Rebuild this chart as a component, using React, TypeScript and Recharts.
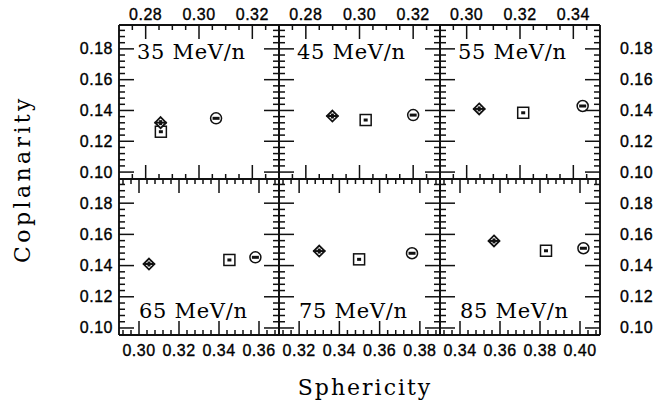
import React from 'react';
import { ScatterChart, Scatter, XAxis, YAxis } from 'recharts';

const W = 665;
const H = 406;

// ---- data ----
const energyLabels = ['35 MeV/n', '45 MeV/n', '55 MeV/n', '65 MeV/n', '75 MeV/n', '85 MeV/n'];
const diamondSph = [0.2856, 0.2899, 0.3047, 0.305, 0.33, 0.357];
const diamondCop = [0.1321, 0.1364, 0.141, 0.141, 0.1493, 0.1558];
const squareSph = [0.2857, 0.3023, 0.3212, 0.3452, 0.3498, 0.383];
const squareCop = [0.1262, 0.1338, 0.1385, 0.1436, 0.144, 0.1495];
const circleSph = [0.3064, 0.32, 0.3435, 0.3582, 0.3761, 0.4017];
const circleCop = [0.1349, 0.137, 0.1429, 0.1453, 0.1479, 0.1511];

const xDomains: [number, number][] = [
  [0.27, 0.33], [0.27, 0.33], [0.29, 0.35],
  [0.29, 0.37], [0.31, 0.39], [0.33, 0.41],
];
const xMajorLabels = [
  [0.28, 0.3, 0.32], [0.28, 0.3, 0.32], [0.3, 0.32, 0.34],
  [0.3, 0.32, 0.34, 0.36], [0.32, 0.34, 0.36, 0.38], [0.34, 0.36, 0.38, 0.4],
];
const xMinorSteps = [0.005, 0.005, 0.005, 0.004, 0.004, 0.004];
const yDomain: [number, number] = [0.0955, 0.1955];
const yMajorLabels = [0.1, 0.12, 0.14, 0.16, 0.18];
const yMinorStep = 0.004;

// ---- layout ----
const colX = [119, 279, 440, 600];
const rowY = [25, 179, 335];

const r6 = (v: number) => Math.round(v * 1e6) / 1e6;
const makeTicks = (d: [number, number], step: number, majors: number[]) => {
  const out: number[] = [];
  const start = Math.ceil(d[0] / step - 1e-9);
  for (let k = start; k * step <= d[1] + 1e-9; k++) {
    const v = r6(k * step);
    if (v - d[0] > 0.0012 && d[1] - v > 0.0012) out.push(v);
  }
  majors.forEach((m) => { if (!out.some((o) => Math.abs(o - m) < 1e-6)) out.push(m); });
  return out.sort((a, b) => a - b);
};
const isMajorOf = (v: number, majors: number[]) => majors.some((m) => Math.abs(m - v) < 1e-6);

const LINE = '#111';
const tickFont = { fontFamily: '"Liberation Sans", Arial, sans-serif', fontSize: 16, letterSpacing: 0.5 };

const XTick = (p: any) => {
  const { x, y, payload, side, showLabel, majors } = p;
  const v = payload.value as number;
  const major = isMajorOf(v, majors);
  const len = major ? 14 : 5;
  const dir = side === 'top' ? 1 : -1;
  return (
    <g>
      <line x1={x} y1={y} x2={x} y2={y + dir * len} stroke={LINE} strokeWidth={1.5} />
      {major && showLabel && (
        <text x={x} y={side === 'top' ? y - 5 : y + 21} textAnchor="middle" fill="#000" stroke="#000" strokeWidth={0.35} style={tickFont}>
          {v.toFixed(2)}
        </text>
      )}
    </g>
  );
};

const YTick = (p: any) => {
  const { x, y, payload, side, showLabel } = p;
  const v = payload.value as number;
  const major = isMajorOf(v, yMajorLabels);
  const len = major ? 15 : 6;
  const dir = side === 'left' ? 1 : -1;
  return (
    <g>
      <line x1={x} y1={y} x2={x + dir * len} y2={y} stroke={LINE} strokeWidth={1.5} />
      {major && showLabel && (
        <text
          x={side === 'left' ? x - 6 : x + 20}
          y={y + 5.5}
          textAnchor={side === 'left' ? 'end' : 'start'}
          fill="#000"
          stroke="#000"
          strokeWidth={0.35}
          style={tickFont}
        >
          {v.toFixed(2)}
        </text>
      )}
    </g>
  );
};

const Diamond = (p: any) => {
  const { cx, cy } = p;
  const s = 5.5;
  return (
    <g>
      <polygon
        points={`${cx},${cy - s} ${cx + s},${cy} ${cx},${cy + s} ${cx - s},${cy}`}
        fill="#fff"
        stroke={LINE}
        strokeWidth={1.8}
      />
      <line x1={cx - s - 0.5} y1={cy} x2={cx + s + 0.5} y2={cy} stroke={LINE} strokeWidth={2} />
      <rect x={cx - 1.5} y={cy - 2.5} width={3} height={5} fill={LINE} />
    </g>
  );
};

const Square = (p: any) => {
  const { cx, cy } = p;
  const s = 5.5;
  return (
    <g>
      <rect x={cx - s} y={cy - s} width={2 * s} height={2 * s} fill="#fff" stroke={LINE} strokeWidth={1.5} />
      <rect x={cx - 2} y={cy - 1.5} width={4} height={3} fill={LINE} />
    </g>
  );
};

const Circle = (p: any) => {
  const { cx, cy } = p;
  return (
    <g>
      <circle cx={cx} cy={cy} r={5.5} fill="#fff" stroke={LINE} strokeWidth={1.5} />
      <rect x={cx - 3.5} y={cy - 1.5} width={7} height={3} fill={LINE} />
    </g>
  );
};

const axisLine = { stroke: LINE, strokeWidth: 1.9 };

function Panel({ i }: { i: number }) {
  const col = i % 3;
  const row = Math.floor(i / 3);
  const x0 = colX[col];
  const x1 = colX[col + 1];
  const y0 = rowY[row];
  const y1 = rowY[row + 1];
  const xd = xDomains[i];
  const xMaj = xMajorLabels[i];
  const xTicks = makeTicks(xd, xMinorSteps[i], xMaj);
  const yTicks = makeTicks(yDomain, yMinorStep, yMajorLabels);
  const dData = [{ x: diamondSph[i], y: diamondCop[i] }];
  const sData = [{ x: squareSph[i], y: squareCop[i] }];
  const cData = [{ x: circleSph[i], y: circleCop[i] }];
  return (
    <div style={{ position: 'absolute', left: 0, top: 0, width: W, height: H }}>
      <ScatterChart
        width={W}
        height={H}
        margin={{ top: y0 - 1, bottom: H - y1 - 1, left: x0 - 1, right: W - x1 - 1 }}
      >
        <XAxis
          xAxisId="t"
          dataKey="x"
          orientation="top"
          type="number"
          domain={xd}
          allowDataOverflow
          ticks={xTicks}
          interval={0}
          height={1}
          tickSize={0}
          tickMargin={0}
          tickLine={false}
          axisLine={axisLine}
          tick={(p: any) => <XTick {...p} side="top" showLabel={row === 0} majors={xMaj} />}
        />
        <XAxis
          xAxisId="b"
          dataKey="x"
          orientation="bottom"
          type="number"
          domain={xd}
          allowDataOverflow
          ticks={xTicks}
          interval={0}
          height={1}
          tickSize={0}
          tickMargin={0}
          tickLine={false}
          axisLine={axisLine}
          tick={(p: any) => <XTick {...p} side="bottom" showLabel={row === 1} majors={xMaj} />}
        />
        <YAxis
          yAxisId="l"
          dataKey="y"
          orientation="left"
          type="number"
          domain={yDomain}
          allowDataOverflow
          ticks={yTicks}
          interval={0}
          width={1}
          tickSize={0}
          tickMargin={0}
          tickLine={false}
          axisLine={axisLine}
          tick={(p: any) => <YTick {...p} side="left" showLabel={col === 0} />}
        />
        <YAxis
          yAxisId="r"
          dataKey="y"
          orientation="right"
          type="number"
          domain={yDomain}
          allowDataOverflow
          ticks={yTicks}
          interval={0}
          width={1}
          tickSize={0}
          tickMargin={0}
          tickLine={false}
          axisLine={axisLine}
          tick={(p: any) => <YTick {...p} side="right" showLabel={col === 2} />}
        />
        <Scatter xAxisId="b" yAxisId="l" dataKey="y" data={sData} shape={(p: any) => <Square {...p} />} isAnimationActive={false} />
        <Scatter xAxisId="b" yAxisId="l" dataKey="y" data={cData} shape={(p: any) => <Circle {...p} />} isAnimationActive={false} />
        <Scatter xAxisId="b" yAxisId="l" dataKey="y" data={dData} shape={(p: any) => <Diamond {...p} />} isAnimationActive={false} />
      </ScatterChart>
    </div>
  );
}

const serif = '"DejaVu Serif", "Liberation Serif", serif';

export default function App() {
  return (
    <div style={{ position: 'absolute', left: 0, top: 0, width: W, height: H, background: '#fff', overflow: 'hidden' }}>
      {energyLabels.map((_, i) => (
        <Panel key={i} i={i} />
      ))}
      <svg width={W} height={H} style={{ position: 'absolute', left: 0, top: 0, pointerEvents: 'none' }}>
        {energyLabels.map((lab, i) => {
          const col = i % 3;
          const row = Math.floor(i / 3);
          return (
            <text
              key={lab}
              x={colX[col] + (row === 0 ? 18 : 20)}
              y={row === 0 ? 59 : 318}
              fill="#000"
              style={{ fontFamily: serif, fontSize: 21, letterSpacing: 0.7 }}
            >
              {lab}
            </text>
          );
        })}
        <text
          x={30}
          y={179}
          transform="rotate(-90, 30, 179)"
          textAnchor="middle"
          fill="#000"
          style={{ fontFamily: serif, fontSize: 22, letterSpacing: 3.4 }}
        >
          Coplanarity
        </text>
        <text
          x={365}
          y={395}
          textAnchor="middle"
          fill="#000"
          style={{ fontFamily: serif, fontSize: 22, letterSpacing: 2 }}
        >
          Sphericity
        </text>
      </svg>
    </div>
  );
}
